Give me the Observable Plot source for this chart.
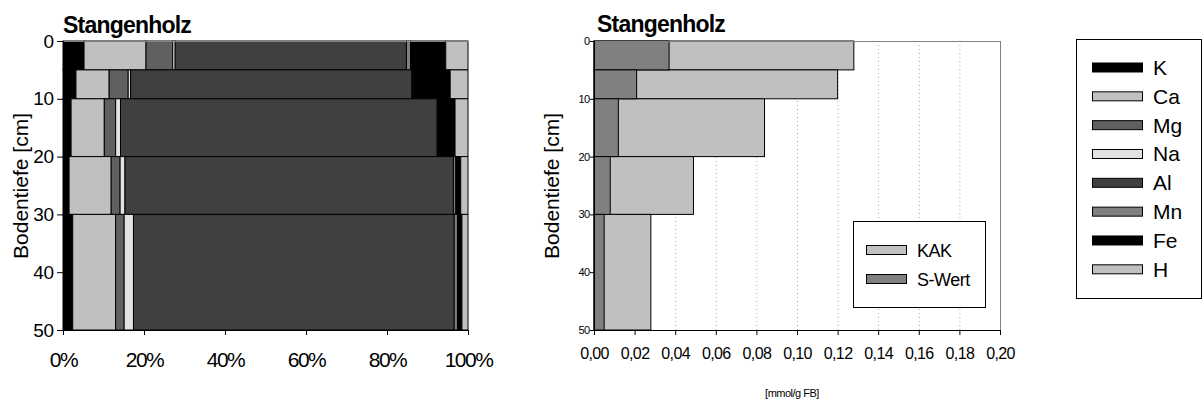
<!DOCTYPE html>
<html>
<head>
<meta charset="utf-8">
<script src="https://cdn.jsdelivr.net/npm/d3@7"></script>
<script src="https://cdn.jsdelivr.net/npm/@observablehq/plot@0.6"></script>
<style>
  body { margin: 0; background: #fff; }
  #chart { position: relative; width: 1204px; height: 403px; overflow: hidden;
           font-family: "Liberation Sans", Arial, sans-serif; background: #fff; }
  #left  { position: absolute; left: 0; top: 0; width: 520px; height: 403px; }
  #right { position: absolute; left: 520px; top: 0; width: 510px; height: 403px; }
  #overlay { position: absolute; left: 0; top: 0; pointer-events: none; }
  .pct g[aria-label="x-axis tick label"] text { letter-spacing: -1.5px; }
  .pct g[aria-label="y-axis tick label"] text { letter-spacing: -0.5px; }
  .kak g[aria-label="x-axis tick label"] text { letter-spacing: -0.6px; }
  .kak g[aria-label="y-axis tick label"] text { letter-spacing: -0.6px; }
</style>
</head>
<body>
<div id="chart">
  <div id="left"></div>
  <div id="right"></div>
  <svg id="overlay" width="1204" height="403"></svg>
</div>
<script>
// Kationen in der Reihenfolge der Stapelung
const elements = ["K", "Ca", "Mg", "Na", "Al", "Mn", "Fe", "H"];
const elementColors = ["#000000", "#c0c0c0", "#606060", "#e2e2e2", "#404040", "#808080", "#000000", "#c0c0c0"];

// Tiefenstufen [cm]
const layerTop    = [0, 5, 10, 20, 30];
const layerBottom = [5, 10, 20, 30, 50];

// Anteil der Kationen an der KAK je Tiefenstufe [%]
const shareK  = [5.2, 3.2, 2.0, 1.5, 2.4];
const shareCa = [15.3, 8.2, 8.2, 10.4, 10.6];
const shareMg = [6.6, 4.7, 2.8, 2.2, 2.1];
const shareNa = [0.6, 0.6, 1.2, 1.2, 2.3];
const shareAl = [57.1, 69.4, 78.2, 81.1, 79.2];
const shareMn = [1.0, 0.2, 0.2, 0.6, 0.8];
const shareFe = [8.7, 9.3, 4.2, 1.2, 1.1];
const shareH  = [5.5, 4.4, 3.2, 1.8, 1.5];

// Austauschkapazität und S-Wert [mmol/g FB]
const kak   = [0.128, 0.120, 0.084, 0.049, 0.028];
const sWert = [0.037, 0.021, 0.012, 0.008, 0.005];

// Achsenteilung
const pctTicks   = [0, 20, 40, 60, 80, 100];
const depthTicks = [0, 10, 20, 30, 40, 50];
const kakTicks   = [0, 0.02, 0.04, 0.06, 0.08, 0.10, 0.12, 0.14, 0.16, 0.18, 0.20];
const kakGrid    = [0.02, 0.04, 0.06, 0.08, 0.10, 0.12, 0.14, 0.16, 0.18];

const title = "Stangenholz";
const depthLabel = "Bodentiefe [cm]";
const unitLabel = "[mmol/g FB]";
const kakLegend = [["KAK", "#c0c0c0"], ["S-Wert", "#808080"]];

const font = "'Liberation Sans', Arial, sans-serif";

// Gestapelte Segmente je Tiefenstufe
const shares = [shareK, shareCa, shareMg, shareNa, shareAl, shareMn, shareFe, shareH];
const segments = [];
layerTop.forEach((top, i) => {
  let acc = 0;
  elements.forEach((el, j) => {
    const v = shares[j][i];
    segments.push({element: el, top, bottom: layerBottom[i], x1: acc, x2: acc + v});
    acc += v;
  });
});

const layers = layerTop.map((top, i) => ({top, bottom: layerBottom[i], kak: kak[i], s: sWert[i]}));

const left = Plot.plot({
  width: 520, height: 403,
  marginLeft: 63, marginRight: 52, marginTop: 41, marginBottom: 73,
  className: "pct",
  style: {fontFamily: font, background: "transparent", color: "#000", overflow: "visible"},
  x: {domain: [0, 100]},
  y: {domain: [0, 50], reverse: true},
  color: {domain: elements, range: elementColors},
  marks: [
    Plot.rect(segments, {x1: "x1", x2: "x2", y1: "top", y2: "bottom", fill: "element", stroke: "#000", strokeWidth: 1}),
    Plot.frame({stroke: "#808080"}),
    Plot.ruleX([0], {stroke: "#000"}),
    Plot.ruleY([50], {stroke: "#000"}),
    Plot.axisX(pctTicks, {tickSize: 5, tickPadding: 17, fontSize: 21, tickFormat: d => d + "%", label: null}),
    Plot.axisY(depthTicks, {tickSize: 6, tickPadding: 4, fontSize: 19, label: null})
  ]
});
document.getElementById("left").append(left);

const right = Plot.plot({
  width: 510, height: 403,
  marginLeft: 74, marginRight: 30, marginTop: 41, marginBottom: 73,
  className: "kak",
  style: {fontFamily: font, background: "transparent", color: "#000"},
  x: {domain: [0, 0.2]},
  y: {domain: [0, 50], reverse: true},
  marks: [
    Plot.ruleX(kakGrid, {stroke: "#a8a8a8", strokeDasharray: "1,3"}),
    Plot.rect(layers, {x1: 0, x2: "kak", y1: "top", y2: "bottom", fill: "#c0c0c0", stroke: "#000", strokeWidth: 1}),
    Plot.rect(layers, {x1: 0, x2: "s", y1: "top", y2: "bottom", fill: "#808080", stroke: "#000", strokeWidth: 1}),
    Plot.frame({stroke: "#808080"}),
    Plot.ruleX([0], {stroke: "#000"}),
    Plot.ruleY([50], {stroke: "#000"}),
    Plot.axisX(kakTicks, {tickSize: 5, tickPadding: 12, fontSize: 16, tickFormat: d => d.toFixed(2).replace(".", ","), label: null}),
    Plot.axisY(depthTicks, {tickSize: 4, tickPadding: 1, fontSize: 11, label: null})
  ]
});
document.getElementById("right").append(right);

// Titel, Achsentitel und Legenden
const svg = d3.select("#overlay").attr("font-family", font);

svg.append("text").attr("x", 63).attr("y", 33).attr("font-size", 23).attr("font-weight", "bold")
  .attr("letter-spacing", "-0.8").text(title);
svg.append("text").attr("x", 597).attr("y", 32).attr("font-size", 23).attr("font-weight", "bold")
  .attr("letter-spacing", "-0.8").text(title);

svg.append("text").attr("transform", "translate(28,186) rotate(-90)").attr("text-anchor", "middle")
  .attr("font-size", 21).text(depthLabel);
svg.append("text").attr("transform", "translate(559,186) rotate(-90)").attr("text-anchor", "middle")
  .attr("font-size", 21).text(depthLabel);

svg.append("text").attr("x", 792).attr("y", 397).attr("text-anchor", "middle")
  .attr("font-size", 11).attr("letter-spacing", "-0.5").text(unitLabel);

// Legende KAK / S-Wert
const lg1 = svg.append("g");
lg1.append("rect").attr("x", 853.5).attr("y", 221.5).attr("width", 132).attr("height", 86)
  .attr("fill", "#fff").attr("stroke", "#000");
kakLegend.forEach(([name, col], i) => {
  const cy = 250 + i * 29;
  lg1.append("rect").attr("x", 866.5).attr("y", cy - 4.5).attr("width", 40).attr("height", 9)
    .attr("fill", col).attr("stroke", "#000");
  lg1.append("text").attr("x", 917).attr("y", cy + 6.5).attr("font-size", 18)
    .attr("letter-spacing", "-0.5").text(name);
});

// Legende Kationen
const lg2 = svg.append("g");
lg2.append("rect").attr("x", 1076.5).attr("y", 39.5).attr("width", 125).attr("height", 259)
  .attr("fill", "#fff").attr("stroke", "#000");
elements.forEach((name, i) => {
  const cy = 67.5 + i * 28.83;
  lg2.append("rect").attr("x", 1092.5).attr("y", cy - 4.5).attr("width", 50).attr("height", 9)
    .attr("fill", elementColors[i]).attr("stroke", "#000");
  lg2.append("text").attr("x", 1153).attr("y", cy + 7.5).attr("font-size", 21).text(name);
});
</script>
</body>
</html>
